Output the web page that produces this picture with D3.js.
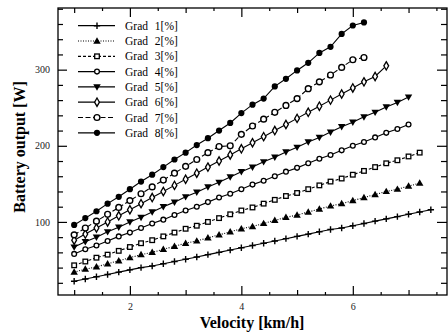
<!DOCTYPE html>
<html><head><meta charset="utf-8">
<script src="https://cdn.jsdelivr.net/npm/d3@7"></script>
<style>body{margin:0;background:#fff}svg{display:block}</style>
</head><body><svg id="c" width="448" height="335"></svg>
<script>
const velocities = [1.0,1.2,1.4,1.6,1.8,2.0,2.2,2.4,2.6,2.8,3.0,3.2,3.4,3.6,3.8,4.0,4.2,4.4,4.6,4.8,5.0,5.2,5.4,5.6,5.8,6.0,6.2,6.4,6.6,6.8,7.0,7.2,7.4];
const seriesNames = ["Grad 1[%]","Grad 2[%]","Grad 3[%]","Grad 4[%]","Grad 5[%]","Grad 6[%]","Grad 7[%]","Grad 8[%]"];
const grad1 = [22,25,28,31,34,37,40,42,45,48,51,54,57,60,63,66,69,72,75,78,81,84,87,90,92,95,98,101,104,107,110,113,116];
const grad2 = [34,38,41,45,49,53,57,60,64,68,72,75,79,83,87,91,94,98,102,106,109,113,117,121,124,128,132,136,140,143,147,151];
const grad3 = [43,48,53,57,62,67,72,76,81,86,91,95,100,105,110,115,119,124,129,134,138,143,148,153,157,162,167,172,177,181,186,191];
const grad4 = [58,64,69,75,81,86,92,98,103,109,115,120,126,132,137,143,149,154,160,166,171,177,183,188,194,200,205,211,217,222,228];
const grad5 = [67,74,80,87,93,100,106,113,120,126,133,139,146,152,159,166,172,179,185,192,198,205,211,218,225,231,238,244,251,257,264];
const grad6 = [76,84,92,100,108,116,124,132,140,148,156,164,172,180,188,196,204,212,220,228,236,244,252,260,268,276,284,291,305];
const grad7 = [83,92,101,110,119,128,137,146,155,164,173,182,191,199,200,215,226,235,244,253,262,275,284,293,303,313,316];
const grad8 = [96,105,114,124,133,143,153,162,172,182,191,201,210,220,230,243,254,262,278,288,299,309,322,330,347,358,362];
const xTickLabels = [2,4,6];
const yTickLabels = [100,200,300];

const allSeries = [grad1,grad2,grad3,grad4,grad5,grad6,grad7,grad8];
const markers = ["plus","tri","square","circle","tridown","diamond","circlebig","dot"];
const dashes = [null,"1,1.5","3,2",null,null,null,"5,2.5",null];

const svg = d3.select("#c");
const L=58,R=447,T=8,B=295;
const x = d3.scaleLinear().domain([0.71,7.69]).range([L,R]);
const y = d3.scaleLinear().domain([4,381]).range([B,T]);
const serif = "'Liberation Serif','DejaVu Serif',serif";

svg.append("rect").attr("width",448).attr("height",335).attr("fill","#fff");

// frame
svg.append("rect").attr("x",L).attr("y",T).attr("width",R-L).attr("height",B-T)
  .attr("fill","none").attr("stroke","#000").attr("stroke-width",1.3);

// x ticks
const xTicks = d3.range(1,7.51,0.5);
const tlen = v => xTickLabels.includes(v) ? 9 : (Number.isInteger(v) ? 5 : 3);
const gxb = svg.append("g").attr("transform",`translate(0,${B})`)
  .call(d3.axisBottom(x).tickValues(xTicks).tickSize(0).tickFormat(d=>xTickLabels.includes(d)?d:""));
gxb.select(".domain").remove();
gxb.selectAll(".tick line").remove();
gxb.selectAll(".tick").append("line").attr("y1",0).attr("y2",d=>-tlen(d)).attr("stroke","#000").attr("stroke-width",1.2);
gxb.selectAll(".tick text").attr("y",8).attr("font-family",serif).attr("font-size",10).attr("fill","#222");
const gxt = svg.append("g").attr("transform",`translate(0,${T})`)
  .call(d3.axisTop(x).tickValues(xTicks).tickSize(0).tickFormat(""));
gxt.select(".domain").remove();
gxt.selectAll(".tick line").remove();
gxt.selectAll(".tick").append("line").attr("y1",0).attr("y2",d=>tlen(d)).attr("stroke","#000").attr("stroke-width",1.2);

// y ticks
const yTicks = d3.range(20,381,20);
const ylen = v => yTickLabels.includes(v) ? 9 : 5;
const gyl = svg.append("g").attr("transform",`translate(${L},0)`)
  .call(d3.axisLeft(y).tickValues(yTicks).tickSize(0).tickFormat(d=>yTickLabels.includes(d)?d:""));
gyl.select(".domain").remove();
gyl.selectAll(".tick line").remove();
gyl.selectAll(".tick").append("line").attr("x1",0).attr("x2",d=>ylen(d)).attr("stroke","#000").attr("stroke-width",1.2);
gyl.selectAll(".tick text").attr("x",-8).attr("font-family",serif).attr("font-size",10).attr("fill","#222");
const gyr = svg.append("g").attr("transform",`translate(${R},0)`)
  .call(d3.axisRight(y).tickValues(yTicks).tickSize(0).tickFormat(""));
gyr.select(".domain").remove();
gyr.selectAll(".tick line").remove();
gyr.selectAll(".tick").append("line").attr("x1",0).attr("x2",d=>-ylen(d)-1).attr("stroke","#000").attr("stroke-width",1.2);

// titles
svg.append("text").attr("x",252).attr("y",328).attr("text-anchor","middle").attr("fill","#000")
  .attr("font-family",serif).attr("font-weight","bold").attr("font-size",16).text("Velocity [km/h]");
svg.append("text").attr("transform","translate(25,147) rotate(-90)").attr("text-anchor","middle").attr("fill","#000")
  .attr("font-family",serif).attr("font-weight","bold").attr("font-size",16).text("Battery output [W]");

function drawMarker(g, type, cx, cy){
  switch(type){
    case "plus":
      g.append("path").attr("d",`M${cx-3.2},${cy}H${cx+3.2}M${cx},${cy-3.2}V${cy+3.2}`).attr("stroke","#000").attr("stroke-width",1.4).attr("fill","none"); break;
    case "tri":
      g.append("path").attr("transform",`translate(${cx},${cy+0.5})`).attr("d",d3.symbol(d3.symbolTriangle,24)()).attr("fill","#000"); break;
    case "tridown":
      g.append("path").attr("transform",`translate(${cx},${cy-0.5}) rotate(180)`).attr("d",d3.symbol(d3.symbolTriangle,24)()).attr("fill","#000"); break;
    case "square":
      g.append("rect").attr("x",cx-2.3).attr("y",cy-2.3).attr("width",4.6).attr("height",4.6).attr("fill","#fff").attr("stroke","#000").attr("stroke-width",1.3); break;
    case "circle":
      g.append("circle").attr("cx",cx).attr("cy",cy).attr("r",2.4).attr("fill","#fff").attr("stroke","#000").attr("stroke-width",1.3); break;
    case "circlebig":
      g.append("circle").attr("cx",cx).attr("cy",cy).attr("r",2.9).attr("fill","#fff").attr("stroke","#000").attr("stroke-width",1.4); break;
    case "diamond":
      g.append("path").attr("transform",`translate(${cx},${cy})`).attr("d",d3.symbol(d3.symbolDiamond,20)()).attr("fill","#fff").attr("stroke","#000").attr("stroke-width",1.3); break;
    case "dot":
      g.append("circle").attr("cx",cx).attr("cy",cy).attr("r",3.1).attr("fill","#000"); break;
  }
}

// series
const line = d3.line().x(d=>x(d[0])).y(d=>y(d[1]));
allSeries.forEach((vals,i)=>{
  const pts = vals.map((v,j)=>[velocities[j],v]);
  const g = svg.append("g");
  g.append("path").attr("d",line(pts)).attr("fill","none").attr("stroke","#000").attr("stroke-width",1.1)
    .attr("stroke-dasharray",dashes[i]);
  pts.forEach(p=>drawMarker(g,markers[i],x(p[0]),y(p[1])));
});

// legend
seriesNames.forEach((name,i)=>{
  const cy = 25.7 + 15.3*i;
  const g = svg.append("g");
  g.append("line").attr("x1",78).attr("x2",115).attr("y1",cy).attr("y2",cy).attr("stroke","#000").attr("stroke-width",1.2)
    .attr("stroke-dasharray",dashes[i]);
  drawMarker(g,markers[i],97,cy);
  g.append("text").attr("x",125).attr("y",cy).attr("dy","0.35em").attr("font-family",serif).attr("font-size",11.5)
    .attr("fill","#000").attr("word-spacing",4).text(name);
});
</script></body></html>
